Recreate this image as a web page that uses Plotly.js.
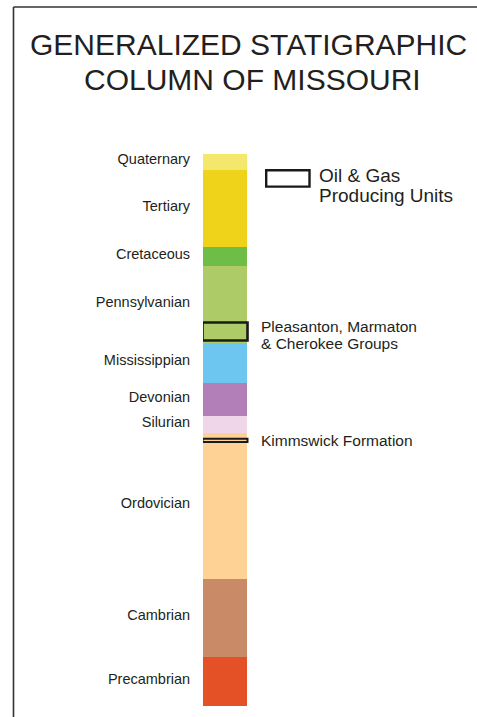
<!DOCTYPE html>
<html>
<head>
<meta charset="utf-8">
<script src="https://cdn.plot.ly/plotly-3.0.1.min.js"></script>
<style>
  html, body { margin: 0; padding: 0; background: #ffffff; }
  #chart { width: 477px; height: 717px; }
</style>
</head>
<body>
<div id="chart"></div>
<script>
// ---- Data (thickness of each unit in column, arbitrary depth units, top to bottom) ----
var periods = ["Quaternary", "Tertiary", "Cretaceous", "Pennsylvanian", "Mississippian",
               "Devonian", "Silurian", "Ordovician", "Cambrian", "Precambrian"];
var thickness = [16, 77, 19, 77, 40, 33, 17, 146, 78, 49];
var periodColors = ["#f4e86c", "#efd31b", "#6dbd46", "#adcc67", "#6dc6ef",
                    "#b37fb9", "#efd6e8", "#fed294", "#c98a68", "#e55127"];

// Oil & gas producing units (top depth and thickness, same units)
var producingTop = [168.5, 284.7];
var producingThick = [18, 3.3];
var producingLabels = [["Pleasanton, Marmaton", "& Cherokee Groups"], ["Kimmswick Formation"]];

var titleLines = ["GENERALIZED STATIGRAPHIC", "COLUMN OF MISSOURI"];
var legendLines = ["Oil & Gas", "Producing Units"];

// ---- derived ----
var tops = [];
var acc = 0;
for (var i = 0; i < thickness.length; i++) { tops.push(acc); acc += thickness[i]; }
var centers = tops.map(function (t, i) { return t + thickness[i] / 2; });

// ---- layout geometry (pixels) ----
var W = 477, H = 717;
var plotLeft = 203;
var depthZeroPx = 154;
function px(p) { return (p - plotLeft) / (W - plotLeft); }
function py(p) { return 1 - p / H; }

var FONT = '"Liberation Sans", Arial, Helvetica, sans-serif';
var TXT = '#231f20';

var colX = 22, colW = 44;

var traces = [
  {
    type: 'bar',
    x: periods.map(function () { return colX; }),
    y: thickness,
    base: tops,
    width: colW,
    marker: { color: periodColors, line: { width: 0 } },
    hoverinfo: 'skip',
    showlegend: false
  },
  {
    type: 'bar',
    x: producingTop.map(function () { return colX; }),
    y: producingThick,
    base: producingTop,
    width: colW + 1,
    marker: { color: 'rgba(0,0,0,0)', line: { color: '#1a1a1a', width: [2.6, 2] } },
    hoverinfo: 'skip',
    showlegend: false
  }
];

var annotations = [];
// title lines
annotations.push({ xref: 'paper', yref: 'paper', x: px(248.5), y: py(44), xanchor: 'center', yanchor: 'middle',
  text: titleLines[0], showarrow: false, font: { family: FONT, size: 30, color: TXT } });
annotations.push({ xref: 'paper', yref: 'paper', x: px(252.5), y: py(80), xanchor: 'center', yanchor: 'middle',
  text: titleLines[1], showarrow: false, font: { family: FONT, size: 30, color: TXT } });
// legend text
annotations.push({ xref: 'paper', yref: 'paper', x: px(316.5), y: py(176), xanchor: 'left', yanchor: 'middle',
  text: legendLines[0], showarrow: false, font: { family: FONT, size: 19, color: TXT } });
annotations.push({ xref: 'paper', yref: 'paper', x: px(316.5), y: py(195), xanchor: 'left', yanchor: 'middle',
  text: legendLines[1], showarrow: false, font: { family: FONT, size: 19, color: TXT } });
// producing unit labels
producingLabels.forEach(function (lines, k) {
  var mid = producingTop[k] + producingThick[k] / 2;
  var n = lines.length;
  lines.forEach(function (line, j) {
    var off = (j - (n - 1) / 2) * 17;
    annotations.push({ xref: 'x', yref: 'y', x: 56, y: mid, xanchor: 'left', yanchor: 'middle',
      yshift: -off - (n > 1 ? 3 : 0),
      text: line, showarrow: false, font: { family: FONT, size: 15.5, color: TXT } });
  });
});

var shapes = [
  // frame lines
  { type: 'line', xref: 'paper', yref: 'paper', x0: px(13.5), x1: px(480), y0: py(7), y1: py(7),
    line: { color: '#333333', width: 1.6 } },
  { type: 'line', xref: 'paper', yref: 'paper', x0: px(13.5), x1: px(13.5), y0: py(7), y1: py(720),
    line: { color: '#333333', width: 1.6 } },
  // legend box
  { type: 'rect', xref: 'paper', yref: 'paper', x0: px(266.2), x1: px(309.5), y0: py(170.2), y1: py(186.6),
    line: { color: '#1a1a1a', width: 2.4 }, fillcolor: 'rgba(0,0,0,0)' }
];

var layout = {
  width: W, height: H,
  margin: { l: plotLeft, r: 0, t: 0, b: 0, pad: 0 },
  paper_bgcolor: '#ffffff', plot_bgcolor: 'rgba(0,0,0,0)',
  barmode: 'overlay',
  showlegend: false,
  font: { family: FONT, color: TXT },
  xaxis: { range: [0, W - plotLeft], visible: false, fixedrange: true },
  yaxis: {
    range: [H - depthZeroPx, -depthZeroPx],
    tickvals: centers, ticktext: periods,
    ticks: 'outside', ticklen: 9, tickcolor: 'rgba(0,0,0,0)',
    ticklabelshift: 3,
    showgrid: false, zeroline: false, showline: false,
    tickfont: { family: FONT, size: 14.5, color: TXT },
    fixedrange: true
  },
  annotations: annotations,
  shapes: shapes
};

Plotly.newPlot('chart', traces, layout, { displayModeBar: false, staticPlot: true });
</script>
</body>
</html>
